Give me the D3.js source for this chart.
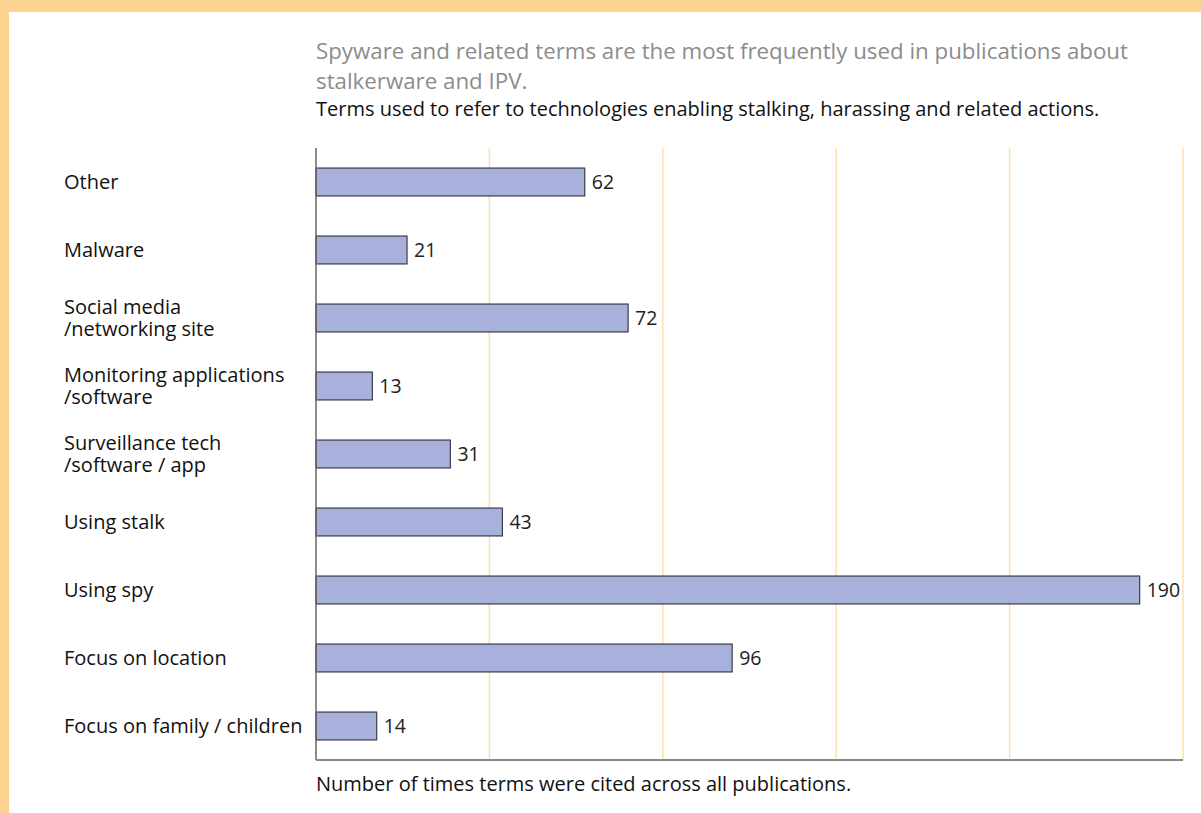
<!DOCTYPE html>
<html>
<head>
<meta charset="utf-8">
<script src="https://cdn.jsdelivr.net/npm/d3@7"></script>
<style>
  html, body { margin: 0; padding: 0; background: #fff; }
  svg text { font-family: 'Open Sans', Lato, sans-serif; }
</style>
</head>
<body>
<div id="container"></div>
<script>
let categories = ['Other', 'Malware', 'Social media\n/networking site', 'Monitoring applications\n/software',
  'Surveillance tech\n/software / app', 'Using stalk', 'Using spy', 'Focus on location', 'Focus on family / children']
let counts = [62, 21, 72, 13, 31, 43, 190, 96, 14]
let gridTicks = [40, 80, 120, 160, 200]

let width = 1201,
  height = 813,
  margin = { top: 148, right: 18, bottom: 53, left: 316 },
  bodyWidth = width - margin.left - margin.right,
  bodyHeight = height - margin.top - margin.bottom

let svg = d3.select('#container')
  .append('svg')
  .attr('width', width)
  .attr('height', height)

// peach frame along top and left
svg.append('rect').attr('x', 0).attr('y', 0).attr('width', width).attr('height', 12).attr('fill', '#fbd28f')
svg.append('rect').attr('x', 0).attr('y', 0).attr('width', 9).attr('height', height).attr('fill', '#fbd28f')

let xScale = d3.scaleLinear().domain([0, 200]).range([0, bodyWidth]),
  yScale = d3.scaleBand().domain(d3.range(categories.length)).range([0, bodyHeight]).paddingInner(0.59).paddingOuter(0.295)

let g = svg.append('g')
  .attr('transform', 'translate(' + margin.left + ', ' + margin.top + ')')

g.selectAll('.grid')
  .data(gridTicks)
  .enter()
  .append('line')
  .attr('x1', d => xScale(d))
  .attr('x2', d => xScale(d))
  .attr('y1', 0)
  .attr('y2', bodyHeight)
  .attr('stroke', '#fde0ae')
  .attr('stroke-width', 1.5)

g.selectAll('.bar')
  .data(counts)
  .enter()
  .append('rect')
  .attr('x', 0)
  .attr('y', (d, i) => yScale(i))
  .attr('width', d => xScale(d))
  .attr('height', yScale.bandwidth())
  .attr('fill', '#a8b0dc')
  .attr('stroke', '#3c3c4c')
  .attr('stroke-width', 1.2)

g.selectAll('.val')
  .data(counts)
  .enter()
  .append('text')
  .attr('x', d => xScale(d) + 7)
  .attr('y', (d, i) => yScale(i) + yScale.bandwidth() / 2)
  .attr('dy', '0.35em')
  .attr('font-size', 19.5)
  .attr('fill', '#222')
  .text(d => d)

// category labels, left aligned
let labels = svg.selectAll('.cat')
  .data(categories)
  .enter()
  .append('text')
  .attr('x', 64)
  .attr('font-size', 20)
  .attr('fill', '#111')
labels.each(function (d, i) {
  let lines = d.split('\n'),
    cy = margin.top + yScale(i) + yScale.bandwidth() / 2
  lines.forEach((l, k) => {
    d3.select(this).append('tspan')
      .attr('x', 64)
      .attr('y', cy + (k - (lines.length - 1) / 2) * 22)
      .attr('dy', '0.35em')
      .text(l)
  })
})

// axis lines
g.append('line').attr('x1', 0).attr('x2', 0).attr('y1', 0).attr('y2', bodyHeight)
  .attr('stroke', '#666').attr('stroke-width', 1.5)
g.append('line').attr('x1', 0).attr('x2', bodyWidth).attr('y1', bodyHeight).attr('y2', bodyHeight)
  .attr('stroke', '#888').attr('stroke-width', 2)

svg.append('text').attr('x', 316).attr('y', 59).attr('font-size', 22.3).attr('fill', '#8c8c8c')
  .text('Spyware and related terms are the most frequently used in publications about')
svg.append('text').attr('x', 316).attr('y', 89).attr('font-size', 22.3).attr('fill', '#8c8c8c')
  .text('stalkerware and IPV.')
svg.append('text').attr('x', 316).attr('y', 116).attr('font-size', 20).attr('fill', '#111')
  .text('Terms used to refer to technologies enabling stalking, harassing and related actions.')
svg.append('text').attr('x', 316).attr('y', 791).attr('font-size', 20).attr('fill', '#111')
  .text('Number of times terms were cited across all publications.')
</script>
</body>
</html>
